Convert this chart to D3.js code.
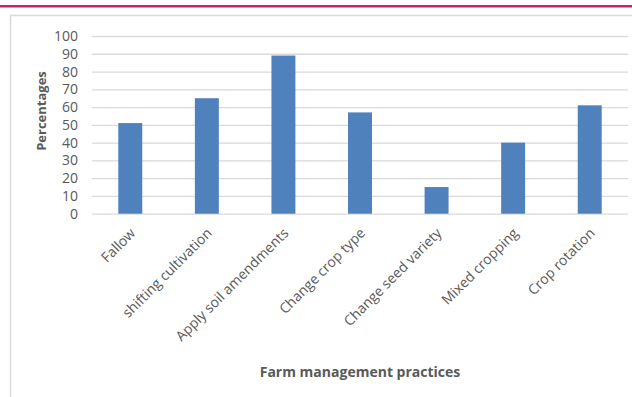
<!DOCTYPE html>
<html>
<head>
<meta charset="utf-8">
<script src="https://cdn.jsdelivr.net/npm/d3@7"></script>
<style>
  body { margin: 0; background: #fff; }
  svg text { font-family: "Open Sans", sans-serif; fill: #595959; }
</style>
</head>
<body>
<div id="my_dataviz"></div>
<script>
// data
var practices = ["Fallow", "shifting cultivation", "Apply soil amendments", "Change crop type",
  "Change seed variety", "Mixed cropping", "Crop rotation"]
var percentages = [51, 65, 89, 57, 15, 40, 61]
var yTicks = [0, 10, 20, 30, 40, 50, 60, 70, 80, 90, 100]

var W = 632, H = 397
var margin = {top: 36, right: 4, bottom: 184, left: 92}
var width = W - margin.left - margin.right,
    height = H - margin.top - margin.bottom

var root = d3.select("#my_dataviz")
  .append("svg")
  .attr("width", W)
  .attr("height", H)

// magenta rule on top and the light chart frame
root.append("rect")
  .attr("x", 0).attr("y", 5)
  .attr("width", W).attr("height", 2.5)
  .style("fill", "#c8206f")
root.append("path")
  .attr("d", "M10.5," + (H + 5) + "V15.5H" + (W + 5))
  .style("fill", "none")
  .style("stroke", "#d9d9d9")
  .style("stroke-width", 1.5)

var svg = root.append("g")
  .attr("transform", "translate(" + margin.left + "," + margin.top + ")")

var data = practices.map((p, i) => ({x: p, value: percentages[i]}))

// X scale
var x = d3.scaleBand()
  .range([0, width])
  .domain(practices)
  .paddingInner(0.687)
  .paddingOuter(0.3435)

// Y scale
var y = d3.scaleLinear()
  .domain([0, 100])
  .range([height + 0.7, 0])

// gridlines
svg.append("g")
  .call(d3.axisLeft(y).tickValues(yTicks).tickSize(-width).tickFormat(""))
  .call(g => g.select(".domain").remove())
  .call(g => g.selectAll("line").style("stroke", "#d9d9d9").style("stroke-width", 1.3))

// y tick labels
svg.append("g")
  .call(d3.axisLeft(y).tickValues(yTicks).tickSize(0).tickPadding(14))
  .call(g => g.select(".domain").remove())
  .call(g => g.selectAll("text")
    .style("font-family", "'Open Sans', sans-serif")
    .style("font-size", "14px")
    .style("fill", "#595959"))

// bars
svg.selectAll()
  .data(data)
  .enter()
  .append("rect")
  .attr("x", d => x(d.x))
  .attr("y", d => y(d.value))
  .attr("width", x.bandwidth())
  .attr("height", d => y(0) - y(d.value))
  .style("fill", "#4f81bd")

// x labels, rotated
svg.append("g")
  .attr("transform", "translate(0," + height + ")")
  .call(d3.axisBottom(x).tickSize(0).tickPadding(0))
  .call(g => g.select(".domain").remove())
  .call(g => g.selectAll("text")
    .style("font-family", "'Open Sans', sans-serif")
    .style("font-size", "14px")
    .style("fill", "#595959")
    .attr("text-anchor", "end")
    .attr("dy", "0")
    .attr("transform", "translate(6,21) rotate(-45)"))

// axis titles
root.append("text")
  .attr("transform", "translate(46,111) rotate(-90)")
  .attr("text-anchor", "middle")
  .style("font-size", "13px")
  .style("font-weight", "bold")
  .text("Percentages")

root.append("text")
  .attr("x", 360)
  .attr("y", 377)
  .attr("text-anchor", "middle")
  .style("font-size", "14px")
  .style("font-weight", "bold")
  .text("Farm management practices")
</script>
</body>
</html>
